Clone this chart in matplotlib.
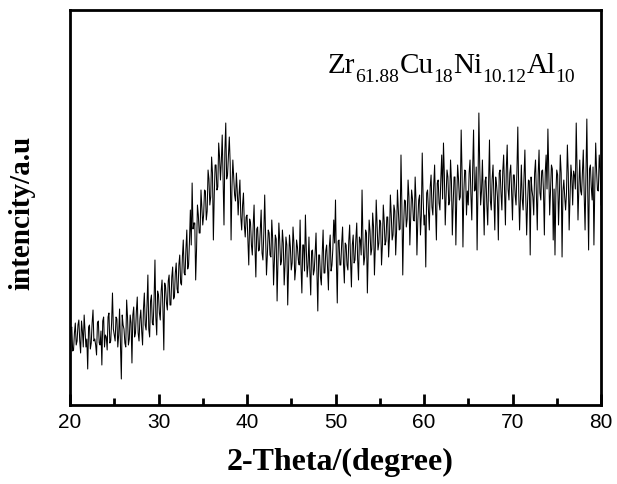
import numpy as np
import matplotlib
matplotlib.use("Agg")
import matplotlib.pyplot as plt
from matplotlib.transforms import offset_copy

# 2-theta grid, values (intensity in arbitrary units)
theta_even = np.round(np.arange(20.0, 80.0001, 0.2), 1)   # 20.0, 20.2, ...
theta_odd = np.round(np.arange(20.1, 79.95, 0.2), 1)      # 20.1, 20.3, ...

seg_20 = [60, 78, 55, 82, 64, 85, 52, 74, 90, 58, 36, 80, 62, 95, 66, 50, 84, 60, 40, 88, 70, 55, 92, 64, 112]
seg_25 = [70, 88, 58, 96, 26, 80, 62, 105, 60, 90, 42, 98, 72, 108, 64, 95, 60, 112, 75, 130, 68, 110, 80, 145, 70]
seg_30 = [110, 85, 125, 55, 118, 95, 130, 100, 138, 108, 142, 112, 150, 120, 165, 130, 175, 140, 195, 222, 182, 125, 200, 172, 215]
seg_35 = [180, 215, 185, 235, 200, 248, 165, 240, 215, 262, 225, 270, 180, 282, 230, 268, 165, 245, 210, 232, 190, 225, 175, 212, 168]
seg_40 = [190, 140, 182, 150, 200, 128, 178, 155, 195, 145, 210, 130, 175, 150, 185, 120, 170, 104, 182, 140, 175, 120, 168, 100, 170]
seg_45 = [135, 178, 125, 165, 145, 185, 112, 160, 190, 128, 168, 110, 155, 135, 172, 94, 150, 120, 175, 132, 160, 115, 170, 140, 185]
seg_50 = [205, 102, 165, 140, 178, 122, 160, 135, 180, 118, 170, 145, 182, 125, 165, 215, 140, 175, 112, 185, 150, 192, 130, 205, 155]
seg_55 = [185, 140, 200, 160, 188, 148, 210, 165, 200, 150, 215, 175, 250, 130, 205, 178, 225, 160, 215, 185, 228, 150, 205, 170, 252]
seg_60 = [180, 138, 215, 175, 230, 190, 240, 165, 225, 195, 250, 262, 180, 235, 200, 245, 170, 228, 160, 240, 205, 275, 158, 235, 190]
seg_65 = [200, 245, 185, 275, 215, 155, 292, 200, 245, 170, 228, 180, 265, 195, 240, 175, 220, 165, 235, 195, 250, 180, 260, 205, 240]
seg_70 = [185, 230, 200, 278, 175, 240, 195, 255, 170, 225, 150, 215, 190, 245, 175, 255, 205, 235, 170, 250, 276, 190, 240, 165, 150]
seg_75 = [235, 180, 250, 148, 225, 195, 260, 175, 240, 200, 230, 282, 185, 245, 210, 255, 175, 286, 155, 240, 205, 160, 262, 215, 250, 200]

# in-between readings (x.1, x.3, x.5, x.7, x.9 for each degree)
mid_20 = [76, 54, 72, 60, 80, 64, 84, 58, 74, 66, 78, 56, 82, 64, 60, 82, 62, 74, 84, 58, 68, 88, 62, 82, 76]
mid_25 = [64, 86, 70, 60, 90, 76, 58, 88, 66, 82, 90, 68, 94, 72, 86, 74, 96, 80, 100, 76, 104, 82, 106, 88, 114]
mid_30 = [92, 114, 96, 122, 102, 124, 100, 128, 106, 132, 116, 140, 122, 148, 132, 156, 136, 164, 160, 176, 182, 156, 190, 172, 198]
mid_35 = [190, 214, 194, 226, 208, 232, 210, 240, 218, 248, 244, 222, 254, 226, 248, 242, 218, 228, 204, 214, 210, 188, 200, 180, 188]
mid_40 = [166, 186, 160, 180, 158, 176, 154, 174, 152, 172, 170, 150, 172, 148, 166, 146, 166, 142, 164, 144, 162, 140, 160, 138, 158]
mid_45 = [142, 162, 136, 158, 140, 138, 160, 134, 156, 140, 134, 154, 130, 152, 132, 150, 128, 152, 132, 154, 136, 158, 134, 156, 162]
mid_50 = [144, 164, 140, 162, 142, 162, 140, 164, 144, 160, 142, 166, 146, 168, 150, 166, 148, 172, 152, 174, 156, 178, 158, 180, 162]
mid_55 = [182, 160, 184, 164, 188, 168, 190, 170, 194, 174, 196, 176, 200, 180, 204, 186, 208, 188, 206, 184, 204, 184, 210, 190, 208]
mid_60 = [190, 212, 194, 218, 198, 220, 198, 222, 202, 226, 206, 230, 210, 228, 204, 224, 202, 228, 206, 226, 208, 232, 212, 234, 214]
mid_65 = [232, 210, 236, 214, 238, 218, 238, 214, 208, 224, 200, 222, 204, 226, 206, 228, 208, 232, 212, 234, 214, 236, 216, 232, 212]
mid_70 = [230, 210, 234, 214, 208, 206, 228, 208, 202, 224, 228, 208, 232, 212, 230, 212, 234, 214, 232, 216, 234, 214, 236, 216, 212]
mid_75 = [230, 210, 232, 214, 208, 212, 232, 208, 228, 234, 216, 236, 218, 214, 234, 210, 232, 214, 236, 218, 238, 218, 234, 214, 236]

int_even = seg_20 + seg_25 + seg_30 + seg_35 + seg_40 + seg_45 + seg_50 + seg_55 + seg_60 + seg_65 + seg_70 + seg_75
int_odd = mid_20 + mid_25 + mid_30 + mid_35 + mid_40 + mid_45 + mid_50 + mid_55 + mid_60 + mid_65 + mid_70 + mid_75

two_theta = np.concatenate([theta_even, theta_odd])
intensity = np.array(int_even + int_odd, dtype=float)
order = np.argsort(two_theta)
two_theta = two_theta[order]
intensity = intensity[order]

fig = plt.figure(figsize=(6.17, 4.84), dpi=100)
ax = fig.add_axes([70 / 617, 79 / 484, 531 / 617, 395 / 484])

ax.plot(two_theta, intensity, color='black', linewidth=0.75)

ax.set_xlim(20, 80)
ax.set_ylim(0, 395)
ax.set_xticks([20, 30, 40, 50, 60, 70, 80])
ax.set_xticks([25, 35, 45, 55, 65, 75], minor=True)
ax.set_yticks([])
ax.tick_params(axis='x', which='major', direction='in', length=8, width=2,
               labelsize=15, pad=6)
ax.tick_params(axis='x', which='minor', direction='in', length=5, width=2)
for lab in ax.get_xticklabels():
    lab.set_family('Liberation Sans')
for sp in ax.spines.values():
    sp.set_linewidth(2)

# composition label, built piece by piece so the subscripts sit low like the original
parts = [('Zr', '61.88'), ('Cu', '18'), ('Ni', '10.12'), ('Al', '10')]
renderer = fig.canvas.get_renderer()
trans = ax.transAxes
x0, y0 = 0.486, 0.84
for main, sub in parts:
    t = ax.text(x0, y0, main, transform=trans, fontsize=21, family='Liberation Serif',
                ha='left', va='baseline')
    t.draw(renderer)
    w = t.get_window_extent(renderer).width
    trans = offset_copy(trans, fig=fig, x=w, units='dots')
    s = ax.text(x0, y0, sub, transform=offset_copy(trans, fig=fig, y=-9, units='dots'),
                fontsize=14, family='Liberation Serif', ha='left', va='baseline')
    s.draw(renderer)
    w = s.get_window_extent(renderer).width
    trans = offset_copy(trans, fig=fig, x=w, units='dots')

fig.text(22 / 617, 1 - 213 / 484, 'intencity/a.u', rotation=90, ha='center', va='center',
         fontsize=21, fontweight='bold', family='Liberation Serif')
fig.text(340 / 617, 1 - 462 / 484, '2-Theta/(degree)', ha='center', va='center',
         fontsize=23, fontweight='bold', family='Liberation Serif')

fig.savefig('out.png', dpi=100)
